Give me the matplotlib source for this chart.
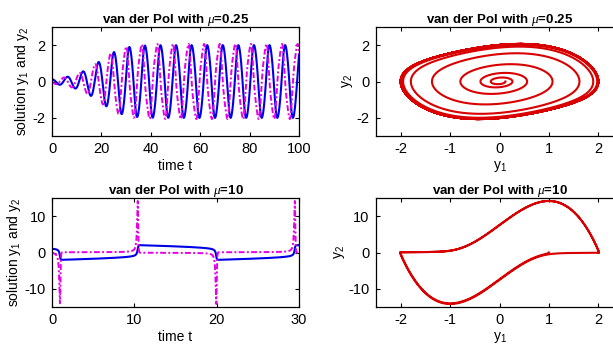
import numpy as np
import matplotlib
matplotlib.use("Agg")
import matplotlib.pyplot as plt

# ---- data: van der Pol parameters ----
mu_values = [0.25, 10]
t_spans = [(0, 100), (0, 30)]
initial_states = [[0.12, 0.0], [1.0, 0.0]]
time_ticks = [[0, 20, 40, 60, 80, 100], [0, 10, 20, 30]]
sol_yticks = [[-2, 0, 2], [-10, 0, 10]]
sol_ylims = [(-3, 3), (-15, 15)]
phase_xticks = [-2, -1, 0, 1, 2]
phase_yticks = [[-2, 0, 2], [-10, 0, 10]]
phase_ylims = [(-3, 3), (-15, 15)]


def vdp(y, mu):
    return np.array([y[1], mu * (1 - y[0] ** 2) * y[1] - y[0]])


def solve(mu, span, y0, dt):
    n = int(round((span[1] - span[0]) / dt))
    t = np.linspace(span[0], span[1], n + 1)
    Y = np.empty((n + 1, 2))
    y = np.array(y0, float)
    Y[0] = y
    for i in range(n):
        k1 = vdp(y, mu)
        k2 = vdp(y + 0.5 * dt * k1, mu)
        k3 = vdp(y + 0.5 * dt * k2, mu)
        k4 = vdp(y + dt * k3, mu)
        y = y + dt / 6 * (k1 + 2 * k2 + 2 * k3 + k4)
        Y[i + 1] = y
    return t, Y


plt.rcParams['font.family'] = ['Liberation Sans', 'DejaVu Sans']
plt.rcParams['mathtext.fontset'] = 'custom'
plt.rcParams['mathtext.it'] = 'Liberation Serif:italic'
plt.rcParams['mathtext.rm'] = 'Liberation Sans'
plt.rcParams['axes.unicode_minus'] = False

W, H = 613, 346
fig = plt.figure(figsize=(W / 100, H / 100), dpi=100)


def ax_at(l, t, r, b):
    return fig.add_axes([l / W, 1 - b / H, (r - l) / W, (b - t) / H])


boxes_sol = [(52, 27, 299, 136), (52, 198, 299, 307)]
boxes_ph = [(376, 27, 623, 136), (376, 198, 623, 307)]
dts = [0.005, 0.001]

for k in range(2):
    mu = mu_values[k]
    t, Y = solve(mu, t_spans[k], initial_states[k], dts[k])
    title = r'van der Pol with $\mu$=' + ('%g' % mu)

    ax = ax_at(*boxes_sol[k])
    ax.plot(t, Y[:, 0], color=(0.0, 0.0, 0.9), lw=1.5)
    ax.plot(t, Y[:, 1], color=(0.9, 0.0, 0.9), lw=1.4, ls=(0, (3, 1.2, 1, 1.2)))
    ax.set_xlim(t_spans[k])
    ax.set_ylim(sol_ylims[k])
    ax.set_xticks(time_ticks[k])
    ax.set_yticks(sol_yticks[k])
    ax.set_xlabel('time t', fontsize=10, labelpad=2)
    ax.set_ylabel(r'solution y$_1$ and y$_2$', fontsize=10, labelpad=1)
    ax.set_title(title, fontsize=9.5, fontweight='bold', pad=3)

    ax2 = ax_at(*boxes_ph[k])
    ax2.plot(Y[:, 0], Y[:, 1], color=(0.85, 0.0, 0.0), lw=1.5)
    ax2.set_xlim(-2.5, 2.5)
    ax2.set_ylim(phase_ylims[k])
    ax2.set_xticks(phase_xticks)
    ax2.set_yticks(phase_yticks[k])
    ax2.set_xlabel(r'y$_1$', fontsize=10, labelpad=2)
    ax2.set_ylabel(r'y$_2$', fontsize=10, labelpad=1)
    ax2.set_title(title, fontsize=9.5, fontweight='bold', pad=3)

    for a in (ax, ax2):
        a.tick_params(direction='in', top=True, right=True, labelsize=10.5,
                      length=3, width=0.8, pad=4.5)
        for s in a.spines.values():
            s.set_linewidth(0.9)

fig.savefig('out.png', dpi=100)
